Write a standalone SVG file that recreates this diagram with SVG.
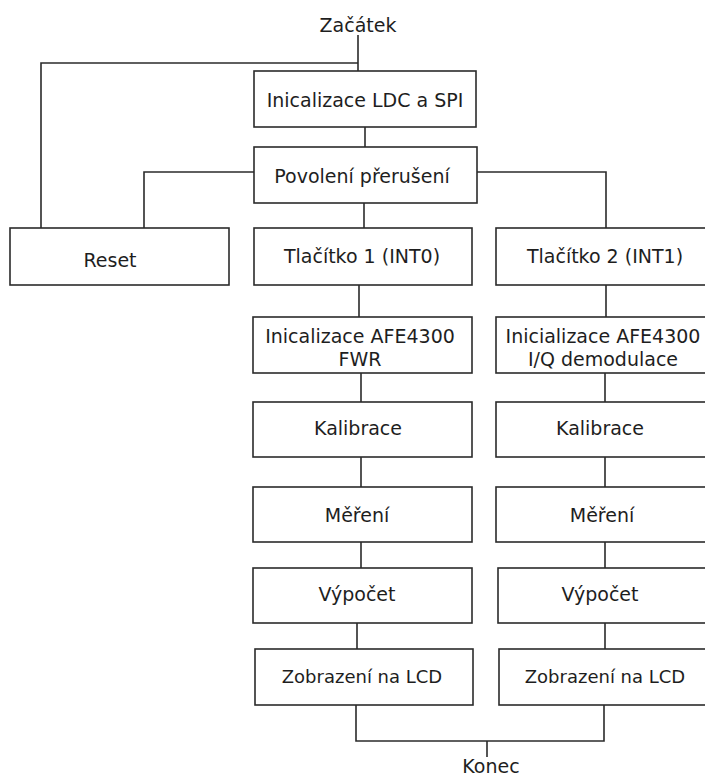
<svg xmlns="http://www.w3.org/2000/svg" width="705" height="776" viewBox="0 0 705 776">
<style>
.box{fill:#fff;stroke:#2b2b2b;stroke-width:1.6}
.ln{fill:none;stroke:#2b2b2b;stroke-width:1.6}
text{font-family:"DejaVu Sans","Liberation Sans",sans-serif;font-size:19px;fill:#1e1e1e;text-anchor:middle}
.sm{font-size:18px}
</style>
<rect width="705" height="776" fill="#fff"/>
<g id="connectors">
<path class="ln" d="M358,35 V71 M358,63 H41 V228"/>
<path class="ln" d="M365,127 V147"/>
<path class="ln" d="M254,172 H144 V228"/>
<path class="ln" d="M477,172 H606 V228"/>
<path class="ln" d="M364,203 V228"/>
<path class="ln" d="M359,285 V317 M361,373 V402 M361,457 V487 M361,542 V568 M357,623 V649"/>
<path class="ln" d="M606,285 V317 M605,373 V402 M605,457 V487 M605,542 V568 M605,623 V649"/>
<path class="ln" d="M356,705 V741 H604 V705 M487,741 V757"/>
</g>
<g id="start"><text x="358" y="32">Začátek</text></g>
<g id="init-ldc"><rect class="box" x="254" y="71" width="222" height="56"/><text x="365" y="107">Inicalizace LDC a SPI</text></g>
<g id="povoleni"><rect class="box" x="254" y="147" width="223" height="56"/><text x="362" y="183">Povolení přerušení</text></g>
<g id="reset"><rect class="box" x="10" y="228" width="219" height="57"/><text x="110" y="267">Reset</text></g>
<g id="btn1"><rect class="box" x="254" y="228" width="218" height="57"/><text x="362" y="263">Tlačítko 1 (INT0)</text></g>
<g id="btn2"><rect class="box" x="496" y="228" width="220" height="57"/><text x="605" y="263">Tlačítko 2 (INT1)</text></g>
<g id="afe1"><rect class="box" x="253" y="317" width="219" height="56"/><text x="360" y="343">Inicalizace AFE4300</text><text x="360" y="366">FWR</text></g>
<g id="afe2"><rect class="box" x="496" y="317" width="220" height="56"/><text x="603" y="343">Inicializace AFE4300</text><text x="603" y="366">I/Q demodulace</text></g>
<g id="kal1"><rect class="box" x="253" y="402" width="219" height="55"/><text x="358" y="435">Kalibrace</text></g>
<g id="kal2"><rect class="box" x="496" y="402" width="220" height="55"/><text x="600" y="435">Kalibrace</text></g>
<g id="mer1"><rect class="box" x="253" y="487" width="219" height="55"/><text x="357" y="522">Měření</text></g>
<g id="mer2"><rect class="box" x="496" y="487" width="220" height="55"/><text x="602" y="522">Měření</text></g>
<g id="vyp1"><rect class="box" x="253" y="568" width="219" height="55"/><text x="357" y="601">Výpočet</text></g>
<g id="vyp2"><rect class="box" x="498" y="568" width="220" height="55"/><text x="600" y="601">Výpočet</text></g>
<g id="lcd1"><rect class="box" x="255" y="649" width="218" height="56"/><text class="sm" x="362" y="683">Zobrazení na LCD</text></g>
<g id="lcd2"><rect class="box" x="499" y="649" width="220" height="56"/><text class="sm" x="605" y="683">Zobrazení na LCD</text></g>
<g id="end"><text x="491" y="773">Konec</text></g>
</svg>
